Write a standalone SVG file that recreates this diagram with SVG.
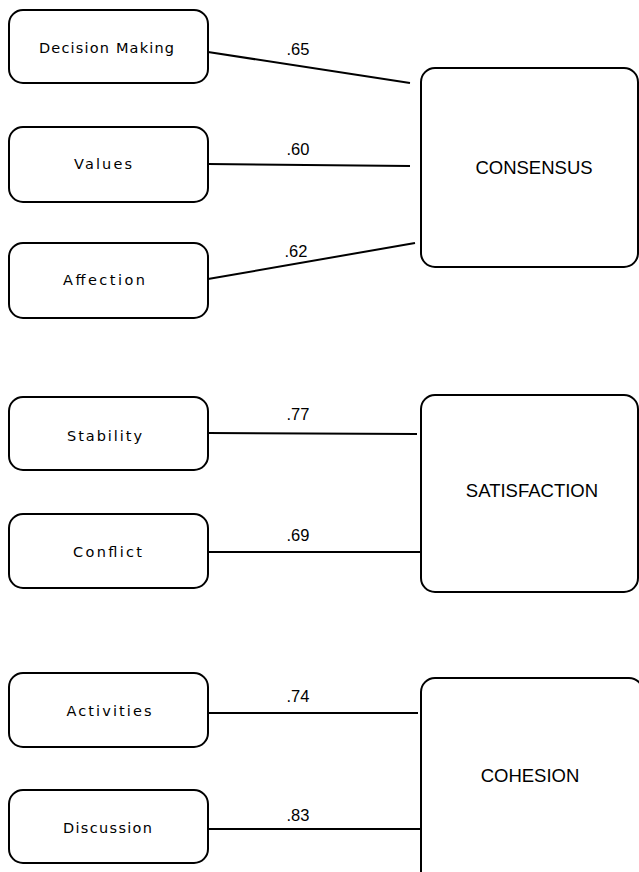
<svg xmlns="http://www.w3.org/2000/svg" width="639" height="872" viewBox="0 0 639 872">
<style>
  .box { fill: #ffffff; stroke: #000000; stroke-width: 2; }
  .lbl { font-family: "DejaVu Sans", "Liberation Sans", sans-serif; font-size: 14.5px; fill: #000000; text-anchor: middle; }
  .big { font-family: "Liberation Sans", Arial, sans-serif; font-size: 18.5px; fill: #000000; text-anchor: middle; }
  .coef { font-family: "Liberation Sans", Arial, sans-serif; font-size: 16.5px; fill: #000000; text-anchor: middle; }
  .edge { stroke: #000000; stroke-width: 2; fill: none; }
</style>
<rect x="0" y="0" width="639" height="872" fill="#ffffff"/>
<g id="connectors">
  <line class="edge" x1="208" y1="52" x2="410" y2="83"/>
  <line class="edge" x1="208" y1="164" x2="410" y2="166"/>
  <line class="edge" x1="208" y1="279" x2="415" y2="243"/>
  <line class="edge" x1="208" y1="433" x2="417" y2="434"/>
  <line class="edge" x1="208" y1="552" x2="421" y2="552"/>
  <line class="edge" x1="208" y1="713" x2="418" y2="713"/>
  <line class="edge" x1="208" y1="829" x2="421" y2="829"/>
  <text class="coef" x="298" y="55">.65</text>
  <text class="coef" x="298" y="155">.60</text>
  <text class="coef" x="296" y="257">.62</text>
  <text class="coef" x="298" y="420">.77</text>
  <text class="coef" x="298" y="541">.69</text>
  <text class="coef" x="298" y="702">.74</text>
  <text class="coef" x="298" y="821">.83</text>
</g>
<g id="decision-making">
  <rect class="box" x="9" y="10" width="199" height="73" rx="14" ry="14"/>
  <text class="lbl" x="106.5" y="52.5" textLength="135" lengthAdjust="spacing">Decision  Making</text>
</g>
<g id="values">
  <rect class="box" x="9" y="127" width="199" height="75" rx="14" ry="14"/>
  <text class="lbl" x="103" y="169" textLength="58" lengthAdjust="spacing">Values</text>
</g>
<g id="affection">
  <rect class="box" x="9" y="243" width="199" height="75" rx="14" ry="14"/>
  <text class="lbl" x="104" y="285" textLength="82" lengthAdjust="spacing">Affection</text>
</g>
<g id="consensus">
  <rect class="box" x="421" y="68" width="217" height="199" rx="14" ry="14"/>
  <text class="big" x="534" y="174">CONSENSUS</text>
</g>
<g id="stability">
  <rect class="box" x="9" y="397" width="199" height="73" rx="14" ry="14"/>
  <text class="lbl" x="104.5" y="441" textLength="75" lengthAdjust="spacing">Stability</text>
</g>
<g id="conflict">
  <rect class="box" x="9" y="514" width="199" height="74" rx="14" ry="14"/>
  <text class="lbl" x="107.5" y="557" textLength="69" lengthAdjust="spacing">Conflict</text>
</g>
<g id="satisfaction">
  <rect class="box" x="421" y="395" width="217" height="197" rx="14" ry="14"/>
  <text class="big" x="532" y="497">SATISFACTION</text>
</g>
<g id="activities">
  <rect class="box" x="9" y="673" width="199" height="74" rx="14" ry="14"/>
  <text class="lbl" x="109" y="716" textLength="85" lengthAdjust="spacing">Activities</text>
</g>
<g id="discussion">
  <rect class="box" x="9" y="790" width="199" height="73" rx="14" ry="14"/>
  <text class="lbl" x="107.5" y="833" textLength="89" lengthAdjust="spacing">Discussion</text>
</g>
<g id="cohesion">
  <rect class="box" x="421" y="678" width="222" height="210" rx="14" ry="14"/>
  <text class="big" x="530" y="782">COHESION</text>
</g>
</svg>
